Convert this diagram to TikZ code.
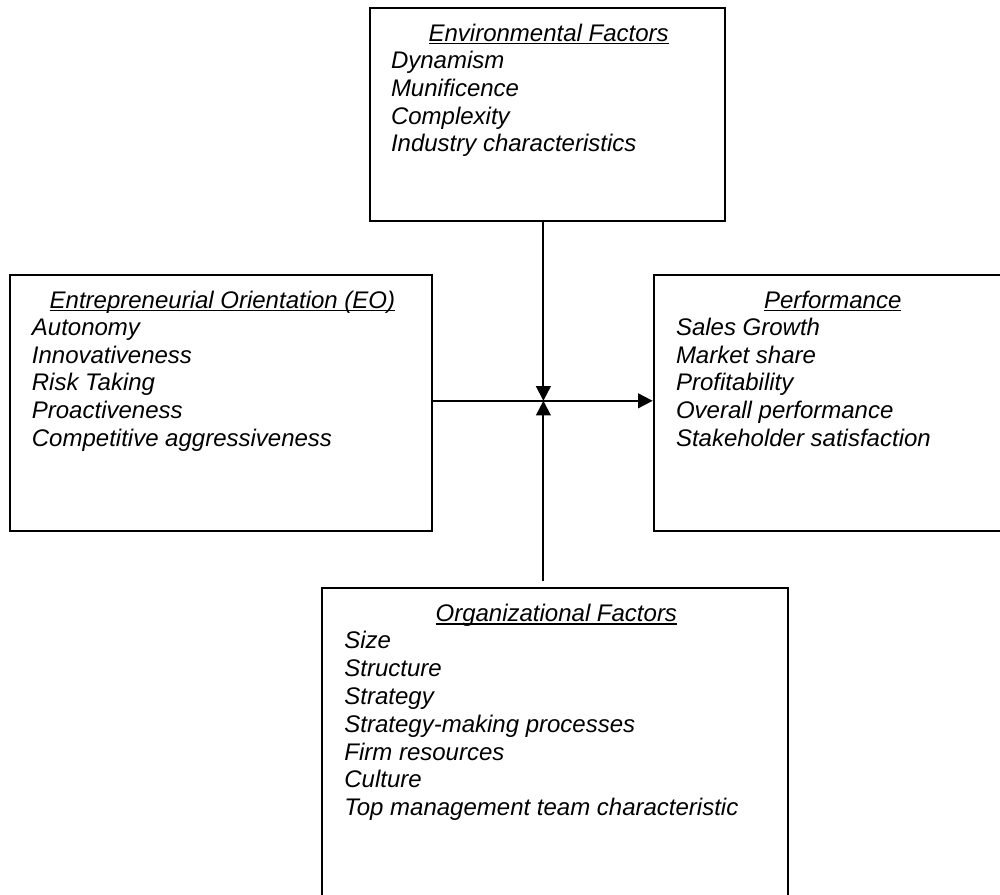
\documentclass[tikz,border=0pt]{standalone}
\usepackage{fontspec}
\setmainfont{Liberation Sans}
\usetikzlibrary{arrows.meta}
\begin{document}
\begin{tikzpicture}[x=0.75pt,y=-0.75pt,
  box/.style={draw=black,line width=1.5pt,rectangle,inner sep=0pt},
  txt/.style={anchor=base west,inner sep=0pt,outer sep=0pt,font=\fontsize{18pt}{20.85pt}\selectfont\itshape},
  arr/.style={line width=1.5pt,-{Triangle[length=11pt,width=11pt]}},
  uline/.style={line width=0.9pt}]
\clip (0,0) rectangle (1000,894);
\fill[white] (0,0) rectangle (1000,894);
% boxes
\node[box,minimum width=266.25pt,minimum height=159.1pt] (env) at (547.5,114.55) {};
\node[box,minimum width=317.1pt,minimum height=192.45pt] (eo) at (221,403.1) {};
\node[box,minimum width=267.2pt,minimum height=192.45pt] (perf) at (831.85,403.1) {};
\node[box,minimum width=349.2pt,minimum height=241.2pt] (org) at (554.8,749.2) {};
% headings
\node[txt] (envh) at (428.6,41) {Environmental Factors};
\node[txt] (eoh) at (49.7,308) {Entrepreneurial Orientation (EO)};
\node[txt] (perfh) at (764,308) {Performance};
\node[txt] (orgh) at (435.6,621.4) {Organizational Factors};
\foreach \h in {envh,eoh,perfh,orgh}
  \draw[uline] ([yshift=-2pt]\h.base west) -- ([yshift=-2pt]\h.base east);
% items
\foreach \t [count=\i] in {Dynamism,Munificence,Complexity,Industry characteristics}
  \node[txt] (env\i) at (391,68.4+27.8*\i-27.8) {\t};
\foreach \t [count=\i] in {Autonomy,Innovativeness,Risk Taking,Proactiveness,Competitive aggressiveness}
  \node[txt] (eo\i) at (31.9,335.2+27.8*\i-27.8) {\t};
\foreach \t [count=\i] in {Sales Growth,Market share,Profitability,Overall performance,Stakeholder satisfaction}
  \node[txt] (perf\i) at (676,335.2+27.8*\i-27.8) {\t};
\foreach \t [count=\i] in {Size,Structure,Strategy,Strategy-making processes,Firm resources,Culture,Top management team characteristic}
  \node[txt] (org\i) at (344.4,648.8+27.8*\i-27.8) {\t};
% connectors
\coordinate (j) at (543.4,400.8);
\draw[arr] (eo.east |- j) -- (perf.west |- j);
\draw[arr] (env.south -| j) -- (j);
\draw[arr,shorten <=5pt] (org.north -| j) -- (j);
\end{tikzpicture}
\end{document}
